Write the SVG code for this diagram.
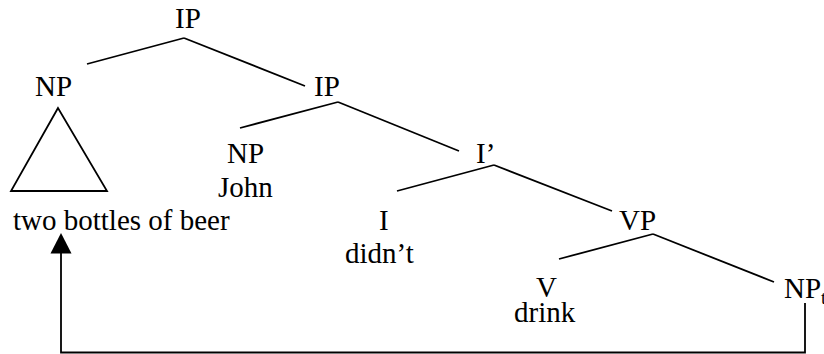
<svg xmlns="http://www.w3.org/2000/svg" width="824" height="354" viewBox="0 0 824 354">
<style>
  text { font-family: "Liberation Serif", "Times New Roman", serif; font-size: 29px; fill: #000; }
  .edge { stroke: #000; stroke-width: 1.8; fill: none; }
</style>
<defs>
  <marker id="arrow" viewBox="0 0 10 10" refX="10" refY="5" markerWidth="10" markerHeight="10" markerUnits="userSpaceOnUse" orient="auto">
    <path d="M0,0 L10,5 L0,10 Z" fill="#000"/>
  </marker>
</defs>
<rect width="824" height="354" fill="#fff"/>
<g id="connectors">
  <line class="edge" x1="184" y1="38" x2="87" y2="64"/>
  <line class="edge" x1="184" y1="38" x2="305" y2="86"/>
  <line class="edge" x1="338" y1="102" x2="240" y2="128"/>
  <line class="edge" x1="338" y1="102" x2="459" y2="151"/>
  <line class="edge" x1="494" y1="165" x2="397" y2="191"/>
  <line class="edge" x1="494" y1="165" x2="612" y2="211"/>
  <line class="edge" x1="653" y1="234" x2="559" y2="259"/>
  <line class="edge" x1="653" y1="234" x2="774" y2="282"/>
  <polyline class="edge" points="805,303 805,352.5 61,352.5 61,253"/>
  <path d="M61,233 L50.5,253.5 L71.5,253.5 Z" fill="#000"/>
</g>
<g id="ip-top"><text x="175" y="28">IP</text></g>
<g id="np-topic">
  <text x="35" y="96">NP</text>
  <polygon class="edge" points="58,108 11,191 107,191"/>
  <text x="13" y="230">two bottles of beer</text>
</g>
<g id="ip-2"><text x="314" y="96">IP</text></g>
<g id="np-john"><text x="227" y="163">NP</text><text x="218" y="197">John</text></g>
<g id="i-bar"><text x="476" y="163">I’</text></g>
<g id="i-head"><text x="379" y="230">I</text><text x="345" y="263">didn’t</text></g>
<g id="vp"><text x="619" y="230">VP</text></g>
<g id="v"><text x="536" y="297">V</text><text x="514" y="322">drink</text></g>
<g id="np-trace"><text x="784" y="298">NP<tspan font-size="19" dy="6">t</tspan></text></g>
</svg>
